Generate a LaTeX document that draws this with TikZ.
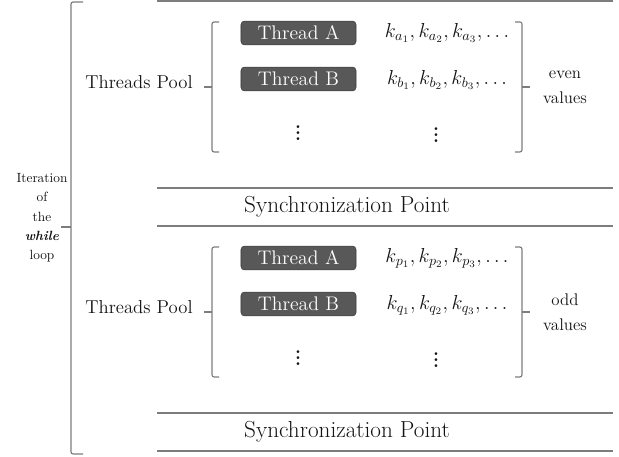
\documentclass[tikz,border=0pt]{standalone}
\usepackage{amsmath}
\begin{document}
\begin{tikzpicture}[x=0.025cm, y=-0.025cm]
    \definecolor{rule}{RGB}{125,125,125}
    \definecolor{threadbox}{RGB}{88,88,88}
    \definecolor{ink}{RGB}{20,20,20}
    \tikzset{
        txt/.style={text=ink, font=\fontsize{14}{16}\selectfont, inner sep=0pt},
        thread/.style={rounded corners=2.5pt, fill=threadbox, draw=threadbox!70!black, text=white, font=\fontsize{14}{16}\selectfont, minimum width=81.8pt, minimum height=17pt, inner sep=0pt},
        vdotsnode/.style={text=ink, font=\fontsize{24}{26}\selectfont, inner sep=0pt},
        bracket/.style={draw=rule, line width=0.8pt, rounded corners=1.5pt},
        sync/.style={draw=rule, line width=0.9pt}
    }
    \useasboundingbox (0,0) rectangle (619,457);

    \draw [sync] (157,1) -- (613,1);
    \draw [bracket] (83,2) -- (71,2) -- (71,454) -- (83,454);
    \draw [bracket] (71,227) -- (61,227);
    \node [txt, align=center, font=\fontsize{9.5}{13.7}\selectfont] (iter) at (42,218) {Iteration\\of\\the\\\textbf{\textit{while}}\\loop};

    \foreach \oy/\ka/\kb/\parity/\g in {0/a/b/even/1, 225/p/q/odd/2}{
        \node [txt, font=\fontsize{13.3}{16}\selectfont] (pool\g) at (139, 82+\oy) {Threads Pool};

        \draw [bracket] (219,22+\oy) -- (212,22+\oy) -- (212,152+\oy) -- (219,152+\oy);
        \draw [bracket] (212,87+\oy) -- (204,87+\oy);
        \draw [bracket] (515,22+\oy) -- (522,22+\oy) -- (522,152+\oy) -- (515,152+\oy);
        \draw [bracket] (522,87+\oy) -- (530,87+\oy);

        \node [thread] (thrA\g) at (298.5, 33+\oy) {Thread A};
        \node [thread] (thrB\g) at (298.5, 79+\oy) {Thread B};
        \node [vdotsnode] (dotsT\g) at (298, 129+\oy) {$\vdots$};

        \node [txt] (keysA\g) at (447, 33+\oy) {$k_{\ka_1},k_{\ka_2},k_{\ka_3},\ldots$};
        \node [txt] (keysB\g) at (447, 80+\oy) {$k_{\kb_1},k_{\kb_2},k_{\kb_3},\ldots$};
        \node [vdotsnode] (dotsK\g) at (436, 131+\oy) {$\vdots$};

        \node [txt, align=center, font=\fontsize{12}{18}\selectfont] (par\g) at (565, 87+\oy) {\parity\\values};

        \draw [sync] (157,188+\oy) -- (613,188+\oy);
        \draw [sync] (157,226+\oy) -- (613,226+\oy);
        \node [txt, font=\fontsize{16.5}{18}\selectfont] (sync\g) at (347, 207+\oy) {Synchronization Point};
    }
\end{tikzpicture}
\end{document}
